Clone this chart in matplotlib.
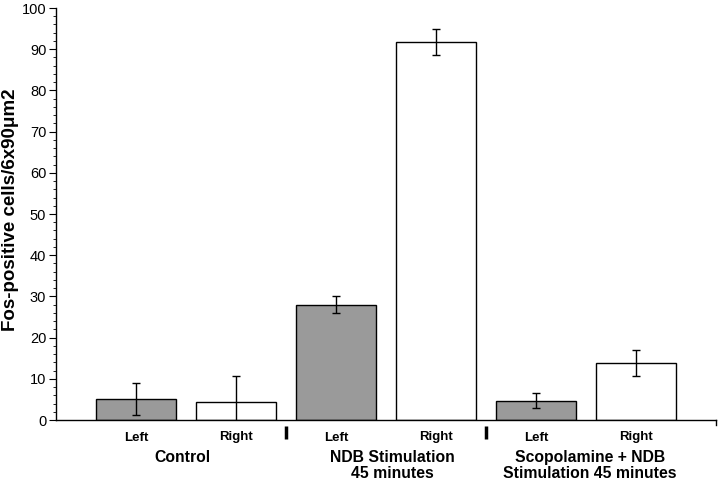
import matplotlib
matplotlib.use("Agg")
import matplotlib.pyplot as plt
import numpy as np

groups = ["Control", "NDB Stimulation\n45 minutes", "Scopolamine + NDB\nStimulation 45 minutes"]
sides = ["Left", "Right", "Left", "Right", "Left", "Right"]
values = [5.1, 4.4, 28.0, 91.8, 4.7, 13.9]
errors = [4.0, 6.4, 2.0, 3.2, 1.8, 3.1]
colors = ["#9a9a9a", "white", "#9a9a9a", "white", "#9a9a9a", "white"]

plt.rcParams["font.family"] = ["Liberation Sans", "DejaVu Sans"]

fig = plt.figure(figsize=(7.2, 4.83), dpi=100)
ax = fig.add_axes([56/720, 1-420/483, 660/720, 412/483])

x = np.arange(len(values))
ax.bar(x, values, width=0.8, color=colors, edgecolor="black", linewidth=1.0, zorder=2)
ax.errorbar(x, values, yerr=errors, fmt="none", ecolor="black", elinewidth=1.0,
            capsize=3, capthick=1.0, zorder=3)

ax.set_xlim(-0.8, 5.8)
ax.set_ylim(0, 100)
ax.set_yticks(np.arange(0, 101, 10))
ax.set_yticks(np.arange(0, 101, 2), minor=True)
ax.tick_params(axis="y", which="major", length=5, width=0.8, labelsize=10.5, pad=2)
ax.tick_params(axis="y", which="minor", length=2.5, width=0.6)
ax.set_xticks([])
for s in ["top", "right"]:
    ax.spines[s].set_visible(False)
ax.spines["left"].set_linewidth(1.0)
ax.spines["bottom"].set_linewidth(1.0)

ax.set_ylabel("Fos-positive cells/6x90\u03bcm2", fontsize=13.5, fontweight="bold")
ax.yaxis.set_label_coords(-37/660, 0.51)

trans = ax.get_xaxis_transform()
# group separators
for sep in [1.5, 3.5]:
    ax.plot([sep, sep], [-0.015, -0.045], transform=trans, color="black", lw=2.5,
            clip_on=False, solid_capstyle="butt")
ax.plot([5.8, 5.8], [0, -0.012], transform=trans, color="black", lw=1, clip_on=False)

for xi, s in zip(x, sides):
    yoff = -0.03 if s == "Left" else -0.026
    ax.text(xi, yoff, s, transform=trans, ha="center", va="top", fontsize=9.5, fontweight="bold")

group_x = [0.46, 2.56, 4.54]
for gx, g in zip(group_x, groups):
    ax.text(gx, -0.072, g, transform=trans, ha="center", va="top",
            fontsize=11.3, fontweight="bold", linespacing=1.1)

fig.savefig("out.png", dpi=100)
